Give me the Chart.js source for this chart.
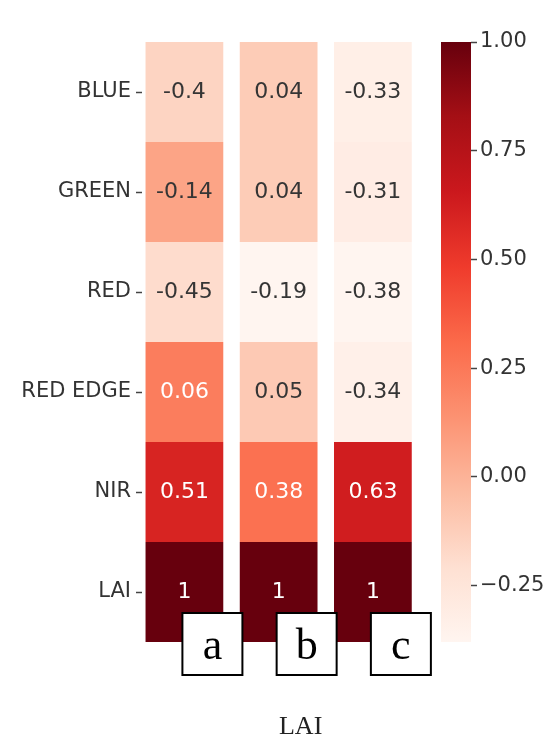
<!DOCTYPE html>
<html>
<head>
<meta charset="utf-8">
<script src="https://cdn.jsdelivr.net/npm/chart.js@4.4.1/dist/chart.umd.min.js"></script>
<style>
  html, body { margin: 0; padding: 0; background: #fff; }
  #wrap { position: relative; width: 552px; height: 736px; }
  #heat { position: absolute; left: 0; top: 0; }
  #bar { position: absolute; left: 430px; top: 0; }
</style>
</head>
<body>
<div id="wrap">
  <canvas id="heat" width="440" height="736"></canvas>
  <canvas id="bar" width="122" height="736"></canvas>
</div>
<script>
// rows and panels of the heatmap
const bands = ['BLUE', 'GREEN', 'RED', 'RED EDGE', 'NIR', 'LAI'];
const panels = ['a', 'b', 'c'];
// correlation with LAI, one array per panel (top to bottom)
const corrA = [-0.4, -0.14, -0.45, 0.06, 0.51, 1];
const corrB = [0.04, 0.04, -0.19, 0.05, 0.38, 1];
const corrC = [-0.33, -0.31, -0.38, -0.34, 0.63, 1];
const colorMin = [-0.68, -0.19, -0.38]; // low end of colour scale for each panel
const colorMax = 1;
const colorbarTicks = [-0.25, 0, 0.25, 0.5, 0.75, 1];
const xTitle = 'LAI';

const panelValues = [corrA, corrB, corrC];

// matplotlib "Reds"
const reds = ['#fff5f0', '#fee0d2', '#fcbba1', '#fc9272', '#fb6a4a', '#ef3b2c', '#cb181d', '#a50f15', '#67000d'];

function hexToRgb(h) {
    return [1, 3, 5].map(i => parseInt(h.slice(i, i + 2), 16));
}

function redsAt(t) {
    t = Math.max(0, Math.min(1, t));
    const p = t * (reds.length - 1);
    const i = Math.min(Math.floor(p), reds.length - 2);
    const f = p - i;
    const a = hexToRgb(reds[i]), b = hexToRgb(reds[i + 1]);
    return a.map((v, k) => Math.round(v + (b[k] - v) * f));
}

function luminance(rgb) {
    const lin = rgb.map(v => {
        v = v / 255;
        return v <= 0.03928 ? v / 12.92 : Math.pow((v + 0.055) / 1.055, 2.4);
    });
    return 0.2126 * lin[0] + 0.7152 * lin[1] + 0.0722 * lin[2];
}

function cellRgb(c, r) {
    const v = panelValues[c][r];
    return redsAt((v - colorMin[c]) / (colorMax - colorMin[c]));
}

Chart.defaults.font.family = '"DejaVu Sans", sans-serif';

// values written in the middle of each cell
const cellText = {
    id: 'cellText',
    afterDatasetsDraw(chart) {
        const ctx = chart.ctx;
        ctx.save();
        ctx.font = '22px "DejaVu Sans"';
        ctx.textAlign = 'center';
        ctx.textBaseline = 'middle';
        chart.data.datasets.forEach((ds, r) => {
            chart.getDatasetMeta(r).data.forEach((bar, c) => {
                const p = bar.getProps(['x', 'y', 'base'], true);
                const rgb = cellRgb(c, r);
                ctx.fillStyle = luminance(rgb) > 0.408 ? '#353535' : '#ffffff';
                ctx.fillText(String(panelValues[c][r]), p.x, (p.y + p.base) / 2);
            });
        });
        ctx.restore();
    }
};

// boxed panel letters and the title underneath
const panelBoxes = {
    id: 'panelBoxes',
    afterDraw(chart) {
        const ctx = chart.ctx;
        const xs = chart.scales.x;
        ctx.save();
        panels.forEach((p, i) => {
            const cx = xs.getPixelForValue(i) + 28;
            ctx.fillStyle = '#fff';
            ctx.fillRect(cx - 30, 613, 60, 62);
            ctx.strokeStyle = '#000';
            ctx.lineWidth = 2;
            ctx.strokeRect(cx - 30, 613, 60, 62);
            ctx.fillStyle = '#000';
            ctx.font = '44px "Liberation Serif"';
            ctx.textAlign = 'center';
            ctx.textBaseline = 'alphabetic';
            ctx.fillText(p, cx, 659);
        });
        ctx.font = '26px "Liberation Serif"';
        ctx.fillStyle = '#222';
        ctx.textAlign = 'center';
        ctx.fillText(xTitle, xs.getPixelForValue(1) + 22, 734);
        ctx.restore();
    }
};

new Chart(document.getElementById('heat'), {
    type: 'bar',
    data: {
        datasets: bands.map((b, r) => ({
            label: b,
            data: panels.map((p, c) => ({ x: c, y: 1 })),
            backgroundColor: panels.map((p, c) => 'rgb(' + cellRgb(c, r).join(',') + ')'),
            borderWidth: 0,
            barPercentage: 0.825,
            categoryPercentage: 1
        }))
    },
    options: {
        responsive: false,
        animation: false,
        layout: { padding: { left: 0, right: 20, top: 42, bottom: 94 } },
        plugins: { legend: { display: false }, tooltip: { enabled: false } },
        scales: {
            x: {
                type: 'linear',
                min: -0.45,
                max: 2.5,
                offset: false,
                stacked: true,
                display: false,
                afterBuildTicks: s => { s.ticks = panels.map((p, i) => ({ value: i })); }
            },
            y: {
                stacked: true,
                reverse: true,
                min: 0,
                max: bands.length,
                afterBuildTicks: s => { s.ticks = bands.map((b, i) => ({ value: i + 0.5 })); },
                afterFit: s => { s.width = 142; },
                ticks: {
                    autoSkip: false,
                    callback: (v, i) => bands[i],
                    font: { size: 21 },
                    color: '#333',
                    padding: 5
                },
                grid: { drawOnChartArea: false, drawTicks: true, tickLength: 6, tickWidth: 1.5, color: '#444' },
                border: { display: false }
            }
        }
    },
    plugins: [cellText, panelBoxes]
});

// colour bar, same scale as panel c
new Chart(document.getElementById('bar'), {
    type: 'bar',
    data: {
        labels: [''],
        datasets: [{
            data: [[colorMin[2], colorMax]],
            backgroundColor: (c) => {
                const a = c.chart.chartArea;
                if (!a) return reds[4];
                const g = c.chart.ctx.createLinearGradient(0, a.bottom, 0, a.top);
                reds.forEach((col, i) => g.addColorStop(i / (reds.length - 1), col));
                return g;
            },
            borderWidth: 0,
            barPercentage: 1,
            categoryPercentage: 1
        }]
    },
    options: {
        responsive: false,
        animation: false,
        layout: { padding: { left: 11, right: 0, top: 42, bottom: 94 } },
        plugins: { legend: { display: false }, tooltip: { enabled: false } },
        scales: {
            x: { display: false },
            y: {
                position: 'right',
                min: colorMin[2],
                max: colorMax,
                afterBuildTicks: s => { s.ticks = colorbarTicks.map(v => ({ value: v })); },
                afterFit: s => { s.width = 81; },
                ticks: {
                    autoSkip: false,
                    callback: v => v.toFixed(2).replace('-', '\u2212'),
                    font: { size: 21 },
                    color: '#333',
                    padding: 3
                },
                grid: { drawOnChartArea: false, drawTicks: true, tickLength: 6, tickWidth: 1.5, color: '#444' },
                border: { display: false }
            }
        }
    }
});
</script>
</body>
</html>
